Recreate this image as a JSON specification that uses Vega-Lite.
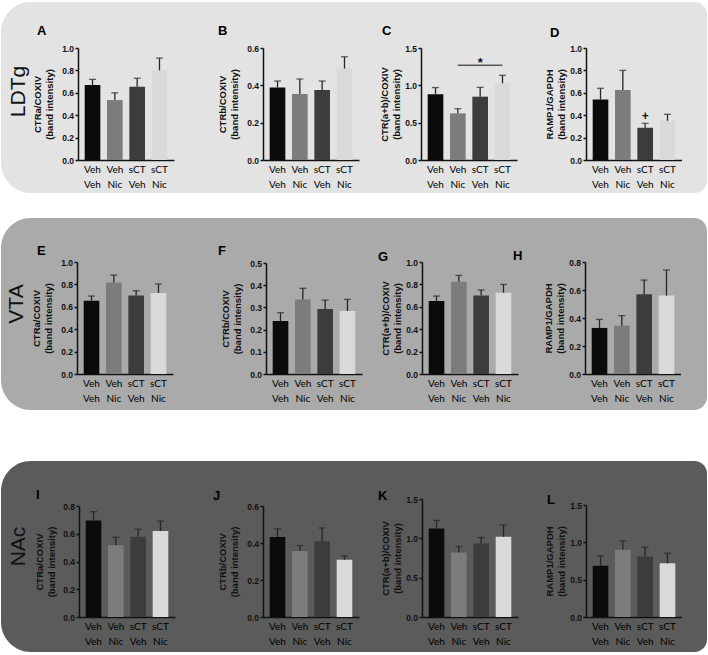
{
"$schema": "https://vega.github.io/schema/vega-lite/v6.json",
"padding": {"left": 1, "top": 2, "right": 0, "bottom": 0},
"background": "white",
"datasets": {
"A": [{"group":"Veh Veh","mean":0.67,"upper":0.72},{"group":"Veh Nic","mean":0.535,"upper":0.60},{"group":"sCT Veh","mean":0.655,"upper":0.73},{"group":"sCT Nic","mean":0.80,"upper":0.91}],
"B": [{"group":"Veh Veh","mean":0.389,"upper":0.423},{"group":"Veh Nic","mean":0.354,"upper":0.434},{"group":"sCT Veh","mean":0.375,"upper":0.423},{"group":"sCT Nic","mean":0.49,"upper":0.553}],
"C": [{"group":"Veh Veh","mean":0.88,"upper":0.97},{"group":"Veh Nic","mean":0.625,"upper":0.687},{"group":"sCT Veh","mean":0.848,"upper":0.973},{"group":"sCT Nic","mean":1.027,"upper":1.134}],
"D": [{"group":"Veh Veh","mean":0.54,"upper":0.64},{"group":"Veh Nic","mean":0.625,"upper":0.80},{"group":"sCT Veh","mean":0.288,"upper":0.327},{"group":"sCT Nic","mean":0.35,"upper":0.408}],
"E": [{"group":"Veh Veh","mean":0.654,"upper":0.696},{"group":"Veh Nic","mean":0.818,"upper":0.884},{"group":"sCT Veh","mean":0.70,"upper":0.744},{"group":"sCT Nic","mean":0.723,"upper":0.804}],
"F": [{"group":"Veh Veh","mean":0.239,"upper":0.276},{"group":"Veh Nic","mean":0.336,"upper":0.386},{"group":"sCT Veh","mean":0.293,"upper":0.333},{"group":"sCT Nic","mean":0.284,"upper":0.336}],
"G": [{"group":"Veh Veh","mean":0.652,"upper":0.696},{"group":"Veh Nic","mean":0.824,"upper":0.88},{"group":"sCT Veh","mean":0.70,"upper":0.75},{"group":"sCT Nic","mean":0.726,"upper":0.80}],
"H": [{"group":"Veh Veh","mean":0.329,"upper":0.39},{"group":"Veh Nic","mean":0.345,"upper":0.417},{"group":"sCT Veh","mean":0.569,"upper":0.671},{"group":"sCT Nic","mean":0.56,"upper":0.743}],
"I": [{"group":"Veh Veh","mean":0.696,"upper":0.759},{"group":"Veh Nic","mean":0.517,"upper":0.575},{"group":"sCT Veh","mean":0.578,"upper":0.633},{"group":"sCT Nic","mean":0.619,"upper":0.691}],
"J": [{"group":"Veh Veh","mean":0.432,"upper":0.476},{"group":"Veh Nic","mean":0.357,"upper":0.386},{"group":"sCT Veh","mean":0.409,"upper":0.481},{"group":"sCT Nic","mean":0.31,"upper":0.33}],
"K": [{"group":"Veh Veh","mean":1.126,"upper":1.228},{"group":"Veh Nic","mean":0.82,"upper":0.897},{"group":"sCT Veh","mean":0.935,"upper":1.01},{"group":"sCT Nic","mean":1.02,"upper":1.168}],
"L": [{"group":"Veh Veh","mean":0.685,"upper":0.82},{"group":"Veh Nic","mean":0.90,"upper":1.02},{"group":"sCT Veh","mean":0.81,"upper":0.935},{"group":"sCT Nic","mean":0.72,"upper":0.855}]
},
"config": {
"view": {"stroke": null},
"title": {"anchor": "start", "frame": "group", "font": "Liberation Sans", "fontSize": 13, "fontWeight": "bold", "color": "#000", "baseline": "alphabetic"},
"axis": {"zindex": 1, "grid": false, "domainColor": "#111", "domainWidth": 1.5, "tickColor": "#111", "tickWidth": 1.5, "labelColor": "#111", "titleColor": "#111"},
"axisY": {"labelFont": "Liberation Sans", "labelFontWeight": "bold", "labelFontSize": 8.5, "tickSize": 3, "labelPadding": 1.5, "titleFont": "Liberation Sans", "titleFontWeight": "bold", "titleFontSize": 9.5, "titleLineHeight": 12},
"axisX": {"labelFont": "Lato", "labelFontSize": 10, "labelColor": "#000", "ticks": false, "labelAngle": 0, "labelPadding": 4, "labelLineHeight": 15, "labelOverlap": false, "labelBound": false}
},
"spacing": 51,
"vconcat": [
{"spacing": 25, "vconcat": [
{"bounds": "flush", "spacing": 0, "hconcat": [
 {"width": 77, "height": 191, "data": {"values": [{"region": "LDTg"}]},
  "layer": [
   {"mark": {"type": "rect", "color": "#e3e3e3", "cornerRadiusTopLeft": 30, "cornerRadiusBottomLeft": 30}, "encoding": {"x": {"value": 0}, "x2": {"value": "width"}, "y": {"value": 0}, "y2": {"value": "height"}}},
   {"mark": {"type": "text", "angle": 270, "fontSize": 21, "font": "Liberation Sans", "color": "#111", "baseline": "alphabetic", "dx": 6, "dy": -14.5}, "encoding": {"x": {"field": "region", "type": "nominal", "axis": null}, "y": {"field": "region", "type": "nominal", "axis": null}, "text": {"field": "region"}}}
  ]},
 {"width": 185, "height": 191, "view": {"fill": "#e3e3e3", "stroke": null}, "title": {"text": "A", "dx": -41, "offset": -36}, "data": {"name": "A"},
  "encoding": {
   "x": {"field": "group", "type": "nominal", "scale": {"domain": ["Veh Veh","Veh Nic","sCT Veh","sCT Nic"], "range": [0, 96], "paddingInner": 0.3, "paddingOuter": 0.3}, "axis": {"offset": -33, "title": null, "labelExpr": "split(datum.label, ' ')"}},
   "y": {"field": "mean", "type": "quantitative", "scale": {"domain": [0, 1.0], "range": [158, 46], "nice": false}, "title": ["CTRa/COXIV", "(band intensity)"], "axis": {"values": [0,0.2,0.4,0.6,0.8,1.0], "format": ".1f", "titlePadding": 7}}
  },
  "layer": [
   {"mark": {"type": "bar"}, "encoding": {"color": {"field": "group", "type": "nominal", "scale": {"domain": ["Veh Veh","Veh Nic","sCT Veh","sCT Nic"], "range": ["#0b0b0b","#7c7c7c","#3c3c3c","#d9d9d9"]}, "legend": null}}},
   {"mark": {"type": "rule", "color": "#262626", "strokeWidth": 1.3}, "encoding": {"y2": {"field": "upper"}}},
   {"mark": {"type": "tick", "color": "#262626", "size": 7, "thickness": 1.3}, "encoding": {"y": {"field": "upper", "type": "quantitative", "title": ["CTRa/COXIV", "(band intensity)"]}}}
  ]},
 {"width": 158, "height": 191, "view": {"fill": "#e3e3e3", "stroke": null}, "title": {"text": "B", "dx": -45, "offset": -36}, "data": {"name": "B"},
  "encoding": {
   "x": {"field": "group", "type": "nominal", "scale": {"domain": ["Veh Veh","Veh Nic","sCT Veh","sCT Nic"], "range": [0, 96], "paddingInner": 0.3, "paddingOuter": 0.3}, "axis": {"offset": -33, "title": null, "labelExpr": "split(datum.label, ' ')"}},
   "y": {"field": "mean", "type": "quantitative", "scale": {"domain": [0, 0.6], "range": [158, 46], "nice": false}, "title": ["CTRb/COXIV", "(band intensity)"], "axis": {"values": [0,0.2,0.4,0.6], "format": ".1f", "titlePadding": 7}}
  },
  "layer": [
   {"mark": {"type": "bar"}, "encoding": {"color": {"field": "group", "type": "nominal", "scale": {"domain": ["Veh Veh","Veh Nic","sCT Veh","sCT Nic"], "range": ["#0b0b0b","#7c7c7c","#3c3c3c","#d9d9d9"]}, "legend": null}}},
   {"mark": {"type": "rule", "color": "#262626", "strokeWidth": 1.3}, "encoding": {"y2": {"field": "upper"}}},
   {"mark": {"type": "tick", "color": "#262626", "size": 7, "thickness": 1.3}, "encoding": {"y": {"field": "upper", "type": "quantitative", "title": ["CTRb/COXIV", "(band intensity)"]}}}
  ]},
 {"width": 165, "height": 191, "view": {"fill": "#e3e3e3", "stroke": null}, "title": {"text": "C", "dx": -39, "offset": -36}, "data": {"name": "C"},
  "encoding": {
   "x": {"field": "group", "type": "nominal", "scale": {"domain": ["Veh Veh","Veh Nic","sCT Veh","sCT Nic"], "range": [0, 96], "paddingInner": 0.3, "paddingOuter": 0.3}, "title": null, "axis": {"offset": -33, "labelExpr": "split(datum.label, ' ')"}},
   "y": {"field": "mean", "type": "quantitative", "scale": {"domain": [0, 1.5], "range": [158, 46], "nice": false}, "title": ["CTR(a+b)/COXIV", "(band intensity)"], "axis": {"values": [0,0.5,1.0,1.5], "format": ".1f", "titlePadding": 3}}
  },
  "layer": [
   {"mark": {"type": "bar"}, "encoding": {"color": {"field": "group", "type": "nominal", "scale": {"domain": ["Veh Veh","Veh Nic","sCT Veh","sCT Nic"], "range": ["#0b0b0b","#7c7c7c","#3c3c3c","#d9d9d9"]}, "legend": null}}},
   {"mark": {"type": "rule", "color": "#262626", "strokeWidth": 1.3}, "encoding": {"y2": {"field": "upper"}}},
   {"mark": {"type": "tick", "color": "#262626", "size": 7, "thickness": 1.3}, "encoding": {"y": {"field": "upper", "type": "quantitative", "title": ["CTR(a+b)/COXIV", "(band intensity)"]}}},
   {"data": {"values": [{"from": "Veh Nic", "to": "sCT Nic", "level": 1.27}]}, "mark": {"type": "rule", "color": "#111", "strokeWidth": 1}, "encoding": {"x": {"field": "from", "type": "nominal", "title": null}, "x2": {"field": "to"}, "y": {"field": "level", "type": "quantitative", "title": ["CTR(a+b)/COXIV", "(band intensity)"]}}},
   {"data": {"values": [{"at": "sCT Veh", "level": 1.27, "mark": "*"}]}, "mark": {"type": "text", "font": "Liberation Sans", "fontSize": 13, "fontWeight": "bold", "color": "#111", "baseline": "alphabetic", "dy": 2}, "encoding": {"x": {"field": "at", "type": "nominal", "title": null}, "y": {"field": "level", "type": "quantitative", "title": ["CTR(a+b)/COXIV", "(band intensity)"]}, "text": {"field": "mark"}}}
  ]},
 {"width": 96, "height": 191, "view": {"fill": "#e3e3e3", "stroke": null}, "title": {"text": "D", "dx": -36, "offset": -38}, "data": {"name": "D"},
  "encoding": {
   "x": {"field": "group", "type": "nominal", "scale": {"domain": ["Veh Veh","Veh Nic","sCT Veh","sCT Nic"], "range": [0, 96], "paddingInner": 0.3, "paddingOuter": 0.3}, "title": null, "axis": {"offset": -33, "labelExpr": "split(datum.label, ' ')"}},
   "y": {"field": "mean", "type": "quantitative", "scale": {"domain": [0, 1.0], "range": [158, 46], "nice": false}, "title": ["RAMP1/GAPDH", "(band intensity)"], "axis": {"values": [0,0.2,0.4,0.6,0.8,1.0], "format": ".1f", "titlePadding": 3}}
  },
  "layer": [
   {"mark": {"type": "bar"}, "encoding": {"color": {"field": "group", "type": "nominal", "scale": {"domain": ["Veh Veh","Veh Nic","sCT Veh","sCT Nic"], "range": ["#0b0b0b","#7c7c7c","#3c3c3c","#d9d9d9"]}, "legend": null}}},
   {"mark": {"type": "rule", "color": "#262626", "strokeWidth": 1.3}, "encoding": {"y2": {"field": "upper"}}},
   {"mark": {"type": "tick", "color": "#262626", "size": 7, "thickness": 1.3}, "encoding": {"y": {"field": "upper", "type": "quantitative", "title": ["RAMP1/GAPDH", "(band intensity)"]}}},
   {"data": {"values": [{"at": "sCT Veh", "level": 0.327, "mark": "+"}]}, "mark": {"type": "text", "font": "Liberation Sans", "fontSize": 12, "fontWeight": "bold", "color": "#111", "baseline": "alphabetic", "dy": -3}, "encoding": {"x": {"field": "at", "type": "nominal", "title": null}, "y": {"field": "level", "type": "quantitative", "title": ["RAMP1/GAPDH", "(band intensity)"]}, "text": {"field": "mark"}}}
  ]},
 {"width": 25, "height": 191, "data": {"values": [{"edge": "right"}]}, "mark": {"type": "rect", "color": "#e3e3e3", "cornerRadiusTopRight": 24, "cornerRadiusBottomRight": 24}, "encoding": {"x": {"value": 0}, "x2": {"value": "width"}, "y": {"value": 0}, "y2": {"value": "height"}}}
]},
{"bounds": "flush", "spacing": 0, "hconcat": [
 {"width": 76, "height": 192, "data": {"values": [{"region": "VTA"}]},
  "layer": [
   {"mark": {"type": "rect", "color": "#aaaaaa", "cornerRadiusTopLeft": 30, "cornerRadiusBottomLeft": 30}, "encoding": {"x": {"value": 0}, "x2": {"value": "width"}, "y": {"value": 0}, "y2": {"value": "height"}}},
   {"mark": {"type": "text", "angle": 270, "fontSize": 21, "font": "Liberation Sans", "color": "#111", "baseline": "alphabetic", "dx": 10, "dy": -16}, "encoding": {"x": {"field": "region", "type": "nominal", "axis": null}, "y": {"field": "region", "type": "nominal", "axis": null}, "text": {"field": "region"}}}
  ]},
 {"width": 189, "height": 192, "view": {"fill": "#aaaaaa", "stroke": null}, "title": {"text": "E", "dx": -40, "offset": -40}, "data": {"name": "E"},
  "encoding": {
   "x": {"field": "group", "type": "nominal", "scale": {"domain": ["Veh Veh","Veh Nic","sCT Veh","sCT Nic"], "range": [0, 96], "paddingInner": 0.3, "paddingOuter": 0.3}, "title": null, "axis": {"offset": -36, "labelExpr": "split(datum.label, ' ')"}},
   "y": {"field": "mean", "type": "quantitative", "scale": {"domain": [0, 1.0], "range": [156, 44], "nice": false}, "title": ["CTRa/COXIV", "(band intensity)"], "axis": {"values": [0,0.2,0.4,0.6,0.8,1.0], "format": ".1f", "titlePadding": 7}}
  },
  "layer": [
   {"mark": {"type": "bar"}, "encoding": {"color": {"field": "group", "type": "nominal", "scale": {"domain": ["Veh Veh","Veh Nic","sCT Veh","sCT Nic"], "range": ["#0b0b0b","#7c7c7c","#3c3c3c","#d9d9d9"]}, "legend": null}}},
   {"mark": {"type": "rule", "color": "#262626", "strokeWidth": 1.3}, "encoding": {"y2": {"field": "upper"}}},
   {"mark": {"type": "tick", "color": "#262626", "size": 7, "thickness": 1.3}, "encoding": {"y": {"field": "upper", "type": "quantitative", "title": ["CTRa/COXIV", "(band intensity)"]}}}
  ]},
 {"width": 156, "height": 192, "view": {"fill": "#aaaaaa", "stroke": null}, "title": {"text": "F", "dx": -48, "offset": -40}, "data": {"name": "F"},
  "encoding": {
   "x": {"field": "group", "type": "nominal", "scale": {"domain": ["Veh Veh","Veh Nic","sCT Veh","sCT Nic"], "range": [0, 96], "paddingInner": 0.3, "paddingOuter": 0.3}, "title": null, "axis": {"offset": -36, "labelExpr": "split(datum.label, ' ')"}},
   "y": {"field": "mean", "type": "quantitative", "scale": {"domain": [0, 0.5], "range": [156, 45], "nice": false}, "title": ["CTRb/COXIV", "(band intensity)"], "axis": {"values": [0,0.1,0.2,0.3,0.4,0.5], "format": ".1f", "titlePadding": 7}}
  },
  "layer": [
   {"mark": {"type": "bar"}, "encoding": {"color": {"field": "group", "type": "nominal", "scale": {"domain": ["Veh Veh","Veh Nic","sCT Veh","sCT Nic"], "range": ["#0b0b0b","#7c7c7c","#3c3c3c","#d9d9d9"]}, "legend": null}}},
   {"mark": {"type": "rule", "color": "#262626", "strokeWidth": 1.3}, "encoding": {"y2": {"field": "upper"}}},
   {"mark": {"type": "tick", "color": "#262626", "size": 7, "thickness": 1.3}, "encoding": {"y": {"field": "upper", "type": "quantitative", "title": ["CTRb/COXIV", "(band intensity)"]}}}
  ]},
 {"width": 163, "height": 192, "view": {"fill": "#aaaaaa", "stroke": null}, "title": {"text": "G", "dx": -44, "offset": -46}, "data": {"name": "G"},
  "encoding": {
   "x": {"field": "group", "type": "nominal", "scale": {"domain": ["Veh Veh","Veh Nic","sCT Veh","sCT Nic"], "range": [0, 96], "paddingInner": 0.3, "paddingOuter": 0.3}, "title": null, "axis": {"offset": -36, "labelExpr": "split(datum.label, ' ')"}},
   "y": {"field": "mean", "type": "quantitative", "scale": {"domain": [0, 1.0], "range": [156, 44], "nice": false}, "title": ["CTR(a+b)/COXIV", "(band intensity)"], "axis": {"values": [0,0.2,0.4,0.6,0.8,1.0], "format": ".1f", "titlePadding": 3}}
  },
  "layer": [
   {"mark": {"type": "bar"}, "encoding": {"color": {"field": "group", "type": "nominal", "scale": {"domain": ["Veh Veh","Veh Nic","sCT Veh","sCT Nic"], "range": ["#0b0b0b","#7c7c7c","#3c3c3c","#d9d9d9"]}, "legend": null}}},
   {"mark": {"type": "rule", "color": "#262626", "strokeWidth": 1.3}, "encoding": {"y2": {"field": "upper"}}},
   {"mark": {"type": "tick", "color": "#262626", "size": 7, "thickness": 1.3}, "encoding": {"y": {"field": "upper", "type": "quantitative", "title": ["CTR(a+b)/COXIV", "(band intensity)"]}}}
  ]},
 {"width": 96, "height": 192, "view": {"fill": "#aaaaaa", "stroke": null}, "title": {"text": "H", "dx": -72, "offset": -45}, "data": {"name": "H"},
  "encoding": {
   "x": {"field": "group", "type": "nominal", "scale": {"domain": ["Veh Veh","Veh Nic","sCT Veh","sCT Nic"], "range": [0, 96], "paddingInner": 0.3, "paddingOuter": 0.3}, "title": null, "axis": {"offset": -36, "labelExpr": "split(datum.label, ' ')"}},
   "y": {"field": "mean", "type": "quantitative", "scale": {"domain": [0, 0.8], "range": [156, 44], "nice": false}, "title": ["RAMP1/GAPDH", "(band intensity)"], "axis": {"values": [0,0.2,0.4,0.6,0.8], "format": ".1f", "titlePadding": 3}}
  },
  "layer": [
   {"mark": {"type": "bar"}, "encoding": {"color": {"field": "group", "type": "nominal", "scale": {"domain": ["Veh Veh","Veh Nic","sCT Veh","sCT Nic"], "range": ["#0b0b0b","#7c7c7c","#3c3c3c","#d9d9d9"]}, "legend": null}}},
   {"mark": {"type": "rule", "color": "#262626", "strokeWidth": 1.3}, "encoding": {"y2": {"field": "upper"}}},
   {"mark": {"type": "tick", "color": "#262626", "size": 7, "thickness": 1.3}, "encoding": {"y": {"field": "upper", "type": "quantitative", "title": ["RAMP1/GAPDH", "(band intensity)"]}}}
  ]},
 {"width": 26, "height": 192, "data": {"values": [{"edge": "right"}]}, "mark": {"type": "rect", "color": "#aaaaaa", "cornerRadiusTopRight": 25, "cornerRadiusBottomRight": 25}, "encoding": {"x": {"value": 0}, "x2": {"value": "width"}, "y": {"value": 0}, "y2": {"value": "height"}}}
]}
]},
{"bounds": "flush", "spacing": 0, "hconcat": [
 {"width": 78, "height": 191, "data": {"values": [{"region": "NAc"}]},
  "layer": [
   {"mark": {"type": "rect", "color": "#5b5b5b", "cornerRadiusTopLeft": 30, "cornerRadiusBottomLeft": 30}, "encoding": {"x": {"value": 0}, "x2": {"value": "width"}, "y": {"value": 0}, "y2": {"value": "height"}}},
   {"mark": {"type": "text", "angle": 270, "fontSize": 21, "font": "Liberation Sans", "color": "#111", "baseline": "alphabetic", "dx": 10, "dy": -15}, "encoding": {"x": {"field": "region", "type": "nominal", "axis": null}, "y": {"field": "region", "type": "nominal", "axis": null}, "text": {"field": "region"}}}
  ]},
 {"width": 184, "height": 191, "view": {"fill": "#5b5b5b", "stroke": null}, "title": {"text": "I", "dx": -43, "offset": -41}, "data": {"name": "I"},
  "encoding": {
   "x": {"field": "group", "type": "nominal", "scale": {"domain": ["Veh Veh","Veh Nic","sCT Veh","sCT Nic"], "range": [0, 96], "paddingInner": 0.3, "paddingOuter": 0.3}, "title": null, "axis": {"offset": -35, "labelExpr": "split(datum.label, ' ')"}},
   "y": {"field": "mean", "type": "quantitative", "scale": {"domain": [0, 0.8], "range": [156, 45], "nice": false}, "title": ["CTRa/COXIV", "(band intensity)"], "axis": {"values": [0,0.2,0.4,0.6,0.8], "format": ".1f", "titlePadding": 6}}
  },
  "layer": [
   {"mark": {"type": "bar"}, "encoding": {"color": {"field": "group", "type": "nominal", "scale": {"domain": ["Veh Veh","Veh Nic","sCT Veh","sCT Nic"], "range": ["#0b0b0b","#7c7c7c","#3c3c3c","#d9d9d9"]}, "legend": null}}},
   {"mark": {"type": "rule", "color": "#262626", "strokeWidth": 1.3}, "encoding": {"y2": {"field": "upper"}}},
   {"mark": {"type": "tick", "color": "#262626", "size": 7, "thickness": 1.3}, "encoding": {"y": {"field": "upper", "type": "quantitative", "title": ["CTRa/COXIV", "(band intensity)"]}}}
  ]},
 {"width": 159, "height": 191, "view": {"fill": "#5b5b5b", "stroke": null}, "title": {"text": "J", "dx": -50, "offset": -42}, "data": {"name": "J"},
  "encoding": {
   "x": {"field": "group", "type": "nominal", "scale": {"domain": ["Veh Veh","Veh Nic","sCT Veh","sCT Nic"], "range": [0, 96], "paddingInner": 0.3, "paddingOuter": 0.3}, "title": null, "axis": {"offset": -35, "labelExpr": "split(datum.label, ' ')"}},
   "y": {"field": "mean", "type": "quantitative", "scale": {"domain": [0, 0.6], "range": [156, 45], "nice": false}, "title": ["CTRb/COXIV", "(band intensity)"], "axis": {"values": [0,0.2,0.4,0.6], "format": ".1f", "titlePadding": 7}}
  },
  "layer": [
   {"mark": {"type": "bar"}, "encoding": {"color": {"field": "group", "type": "nominal", "scale": {"domain": ["Veh Veh","Veh Nic","sCT Veh","sCT Nic"], "range": ["#0b0b0b","#7c7c7c","#3c3c3c","#d9d9d9"]}, "legend": null}}},
   {"mark": {"type": "rule", "color": "#262626", "strokeWidth": 1.3}, "encoding": {"y2": {"field": "upper"}}},
   {"mark": {"type": "tick", "color": "#262626", "size": 7, "thickness": 1.3}, "encoding": {"y": {"field": "upper", "type": "quantitative", "title": ["CTRb/COXIV", "(band intensity)"]}}}
  ]},
 {"width": 164, "height": 191, "view": {"fill": "#5b5b5b", "stroke": null}, "title": {"text": "K", "dx": -44, "offset": -42}, "data": {"name": "K"},
  "encoding": {
   "x": {"field": "group", "type": "nominal", "scale": {"domain": ["Veh Veh","Veh Nic","sCT Veh","sCT Nic"], "range": [0, 96], "paddingInner": 0.3, "paddingOuter": 0.3}, "title": null, "axis": {"offset": -35, "labelExpr": "split(datum.label, ' ')"}},
   "y": {"field": "mean", "type": "quantitative", "scale": {"domain": [0, 1.5], "range": [156, 38], "nice": false}, "title": ["CTR(a+b)/COXIV", "(band intensity)"], "axis": {"values": [0,0.5,1.0,1.5], "format": ".1f", "titlePadding": 3}}
  },
  "layer": [
   {"mark": {"type": "bar"}, "encoding": {"color": {"field": "group", "type": "nominal", "scale": {"domain": ["Veh Veh","Veh Nic","sCT Veh","sCT Nic"], "range": ["#0b0b0b","#7c7c7c","#3c3c3c","#d9d9d9"]}, "legend": null}}},
   {"mark": {"type": "rule", "color": "#262626", "strokeWidth": 1.3}, "encoding": {"y2": {"field": "upper"}}},
   {"mark": {"type": "tick", "color": "#262626", "size": 7, "thickness": 1.3}, "encoding": {"y": {"field": "upper", "type": "quantitative", "title": ["CTR(a+b)/COXIV", "(band intensity)"]}}}
  ]},
 {"width": 96, "height": 191, "view": {"fill": "#5b5b5b", "stroke": null}, "title": {"text": "L", "dx": -39, "offset": -46}, "data": {"name": "L"},
  "encoding": {
   "x": {"field": "group", "type": "nominal", "scale": {"domain": ["Veh Veh","Veh Nic","sCT Veh","sCT Nic"], "range": [0, 96], "paddingInner": 0.3, "paddingOuter": 0.3}, "title": null, "axis": {"offset": -35, "labelExpr": "split(datum.label, ' ')"}},
   "y": {"field": "mean", "type": "quantitative", "scale": {"domain": [0, 1.5], "range": [156, 44], "nice": false}, "title": ["RAMP1/GAPDH", "(band intensity)"], "axis": {"values": [0,0.5,1.0,1.5], "format": ".1f", "titlePadding": 3}}
  },
  "layer": [
   {"mark": {"type": "bar"}, "encoding": {"color": {"field": "group", "type": "nominal", "scale": {"domain": ["Veh Veh","Veh Nic","sCT Veh","sCT Nic"], "range": ["#0b0b0b","#7c7c7c","#3c3c3c","#d9d9d9"]}, "legend": null}}},
   {"mark": {"type": "rule", "color": "#262626", "strokeWidth": 1.3}, "encoding": {"y2": {"field": "upper"}}},
   {"mark": {"type": "tick", "color": "#262626", "size": 7, "thickness": 1.3}, "encoding": {"y": {"field": "upper", "type": "quantitative", "title": ["RAMP1/GAPDH", "(band intensity)"]}}}
  ]},
 {"width": 25, "height": 191, "data": {"values": [{"edge": "right"}]}, "mark": {"type": "rect", "color": "#5b5b5b", "cornerRadiusTopRight": 24, "cornerRadiusBottomRight": 24}, "encoding": {"x": {"value": 0}, "x2": {"value": "width"}, "y": {"value": 0}, "y2": {"value": "height"}}}
]}
]
}
